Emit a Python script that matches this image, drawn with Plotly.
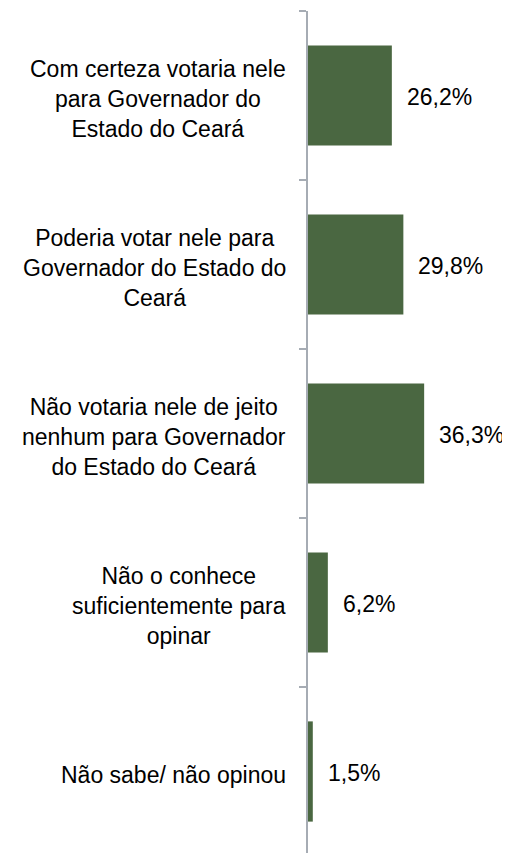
import plotly.graph_objects as go

categories = [
    "Com certeza votaria nele<br>para Governador do<br>Estado do Ceará",
    "Poderia votar nele para<br>Governador do Estado do<br>Ceará",
    "Não votaria nele de jeito<br>nenhum para Governador<br>do Estado do Ceará",
    "Não o conhece<br>suficientemente para<br>opinar",
    "Não sabe/ não opinou",
]
values = [26.2, 29.8, 36.3, 6.2, 1.5]
value_labels = ["26,2%", "29,8%", "36,3%", "6,2%", "1,5%"]

BAR_COLOR = "#4a6741"
AXIS_COLOR = "#a6acb4"
FONT = dict(family="Arial, Liberation Sans, sans-serif", size=23, color="#000000")

fig = go.Figure()

fig.add_trace(
    go.Bar(
        x=values,
        y=categories,
        orientation="h",
        marker=dict(color=BAR_COLOR, line=dict(width=0)),
        hoverinfo="skip",
        showlegend=False,
    )
)

# category labels: centered lines, block right-aligned against the axis
for cat in categories:
    fig.add_annotation(
        x=0, xref="paper", y=cat, yref="y",
        text=cat, showarrow=False,
        xanchor="right", align="center", xshift=-20, yshift=-3,
        font=FONT,
    )

# value labels to the right of each bar
for cat, v, lab in zip(categories, values, value_labels):
    fig.add_annotation(
        x=v, y=cat, text=lab, showarrow=False,
        xanchor="left", xshift=13, yshift=-1, font=FONT,
    )

# page body has an 8px margin; the plot runs a few px past the window bottom
fig.update_layout(
    width=502,
    height=848,
    margin=dict(l=300, r=10, t=3, b=0),
    paper_bgcolor="white",
    plot_bgcolor="white",
    bargap=0.407,
    xaxis=dict(range=[0, 60], visible=False),
    yaxis=dict(
        type="category",
        categoryorder="array",
        categoryarray=categories,
        range=[4.5, -0.5],
        showticklabels=False,
        showgrid=False,
        zeroline=False,
        showline=True,
        linecolor=AXIS_COLOR,
        linewidth=2,
        ticks="outside",
        tickson="boundaries",
        ticklen=7,
        tickwidth=2,
        tickcolor=AXIS_COLOR,
    ),
)

fig.write_html("out.html")
